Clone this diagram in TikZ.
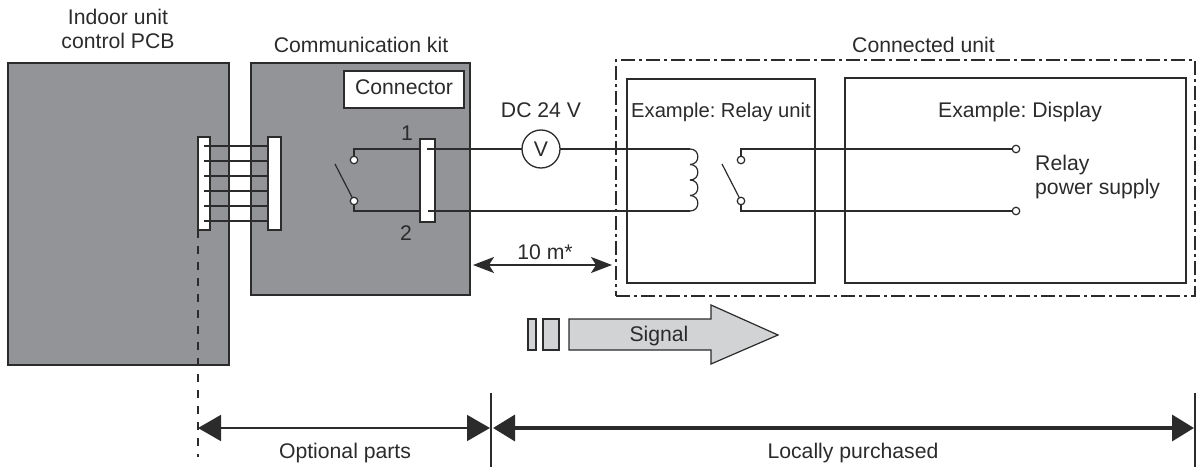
\documentclass[tikz,border=0pt]{standalone}
\usepackage{fontspec}
\setmainfont{Liberation Sans}
\frenchspacing
\usetikzlibrary{arrows.meta,calc,positioning}
\definecolor{unitgray}{HTML}{929497}
\definecolor{signalgray}{HTML}{D1D3D4}
\definecolor{inkgray}{HTML}{2B2B2B}
\tikzset{
  unit/.style={draw=inkgray,line width=1.3pt,inner sep=0pt,outer sep=0pt},
  strip/.style={unit,fill=white},
  term/.style={circle,draw=inkgray,fill=white,line width=1.2pt,minimum size=7.5pt,inner sep=0pt,outer sep=0pt},
  wire/.style={inkgray,line width=1.2pt},
  lbl/.style={text=inkgray,font=\fontsize{21.2}{24.5}\selectfont,align=center,inner sep=0pt,anchor=base},
  dimthin/.style={inkgray,line width=1.6pt,{Triangle[length=23pt,width=26pt]}-{Triangle[length=23pt,width=26pt]}},
  dimthick/.style={inkgray,line width=3.6pt,{Triangle[length=22pt,width=26pt]}-{Triangle[length=22pt,width=26pt]}},
  dimshort/.style={inkgray,line width=1.6pt,{Stealth[length=21pt,width=16pt,inset=5pt]}-{Stealth[length=21pt,width=16pt,inset=5pt]}}
}
\begin{document}
\begin{tikzpicture}[x=1pt,y=-1pt]
    \useasboundingbox (0,0) rectangle (1197,468);
    % gray boards
    \node[unit,fill=unitgray,minimum width=221pt,minimum height=302pt] (pcb) at (118.5,214) {};
    \node[unit,fill=unitgray,minimum width=219pt,minimum height=232pt] (kit) at (360.5,179) {};
    \node[strip,minimum width=120pt,minimum height=37pt] (connector) at (404,89.5) {};
    \node[lbl] (connectortext) at (404,95) {Connector};
    \node[strip,minimum width=12pt,minimum height=93pt] (stripa) at (204,183.5) {};
    \node[strip,minimum width=13pt,minimum height=93pt] (stripb) at (274.5,183.5) {};
    \node[strip,minimum width=15pt,minimum height=83pt] (plug) at (427.5,180.5) {};

    % harness between the two strips
    \foreach \y in {146,161,176,191,206,221}
        \draw[wire] (stripa.center |- 0,\y) -- (stripb.west |- 0,\y);

    % outer frame and the two boxes
    \node[draw=inkgray,line width=1.2pt,dash pattern=on 14pt off 4pt on 3pt off 4pt,minimum width=579pt,minimum height=236pt,inner sep=0pt,outer sep=0pt] (frame) at (905.5,178) {};
    \node[unit,line width=1.2pt,minimum width=188pt,minimum height=204pt] (relay) at (721,181) {};
    \node[unit,line width=1.2pt,minimum width=341pt,minimum height=205pt] (display) at (1015.5,180.5) {};

    % contacts
    \node[term] (ka) at (354,160) {};
    \node[term] (kb) at (354,201) {};
    \node[term] (ra) at (741,160) {};
    \node[term] (rb) at (741,201) {};
    \node[term] (da) at (1016,149) {};
    \node[term] (db) at (1016,211) {};
    \coordinate (kfree) at (335,164);
    \coordinate (rfree) at (722,164);
    \coordinate (ca) at (690,149);
    \coordinate (cb) at (690,211);
    \coordinate (pa) at (427,149);
    \coordinate (pb) at (428,211);
    \node[term,line width=1.3pt,minimum size=38pt] (volt) at (541,149) {};
    \node[lbl] (volttext) at (541,157) {V};

    \draw[wire] (kfree) -- (kb);
    \draw[wire] (rfree) -- (rb);
    \draw[wire] (ka.north) |- (plug.west |- pa);
    \draw[wire] (kb.south) |- (plug.west |- pb);
    \draw[wire] (pa) -- (volt.west);
    \draw[wire] (volt.east) -- (ca);
    \draw[wire] (pb) -- (cb);
    \draw[wire] (ra.north) |- (da.west);
    \draw[wire] (rb.south) |- (db.west);
    \foreach \ya/\yb in {149/164.5,164.5/180,180/195.5,195.5/211}
        \draw[wire] (690,\ya) .. controls (700.5,\ya) and (700.5,\yb) .. (690,\yb);

    % signal arrow
    \node[unit,fill=signalgray,line width=1.2pt,minimum width=8pt,minimum height=31pt] (bara) at (532,334.5) {};
    \node[unit,fill=signalgray,line width=1.2pt,minimum width=16pt,minimum height=31pt] (barb) at (551,334.5) {};
    \draw[inkgray,fill=signalgray,line width=1.2pt] (569,319) -- (711,319) -- (711,305) -- (778,335) -- (711,364) -- (711,350) -- (569,350) -- cycle;
    \node[lbl] (signal) at (659,341) {Signal};

    % dimension lines
    \coordinate (ma) at (473,265);
    \coordinate (mb) at (612,265);
    \draw[dimshort] (ma) -- (mb);
    \node[lbl] (distance) at (545,259) {10 m*};
    \coordinate (lefttop) at (198,230);
    \coordinate (leftend) at (198,457);
    \coordinate (midtop) at (491,393);
    \coordinate (midend) at (491,467);
    \coordinate (righttop) at (1195,393);
    \coordinate (rightend) at (1195,467);
    \draw[inkgray,line width=1.1pt,dash pattern=on 8pt off 8pt] (lefttop) -- (leftend);
    \draw[inkgray,line width=1.1pt] (midtop) -- (midend);
    \draw[inkgray,line width=1.1pt] (righttop) -- (rightend);
    \draw[dimthin] (198,428) -- (490,428);
    \draw[dimthick] (493,428) -- (1194,428);

    % labels
    \node[lbl,anchor=center] (pcbtext) at (118,29) {Indoor unit\\control PCB};
    \node[lbl] (kittext) at (361,53) {Communication kit};
    \node[lbl] (connected) at (923.5,53) {Connected unit};
    \node[lbl] (one) at (407,141) {1};
    \node[lbl] (two) at (406,240) {2};
    \node[lbl] (dctext) at (541,118) {DC 24 V};
    \node[lbl,font=\fontsize{20.2}{24.5}\selectfont] (relaytext) at (721,118) {Example: Relay unit};
    \node[lbl] (displaytext) at (1020,118) {Example: Display};
    \node[lbl,align=left,anchor=west] (supply) at (1035,177) {Relay\\power supply};
    \node[lbl] (optional) at (345,458) {Optional parts};
    \node[lbl] (local) at (853,458) {Locally purchased};
\end{tikzpicture}
\end{document}
